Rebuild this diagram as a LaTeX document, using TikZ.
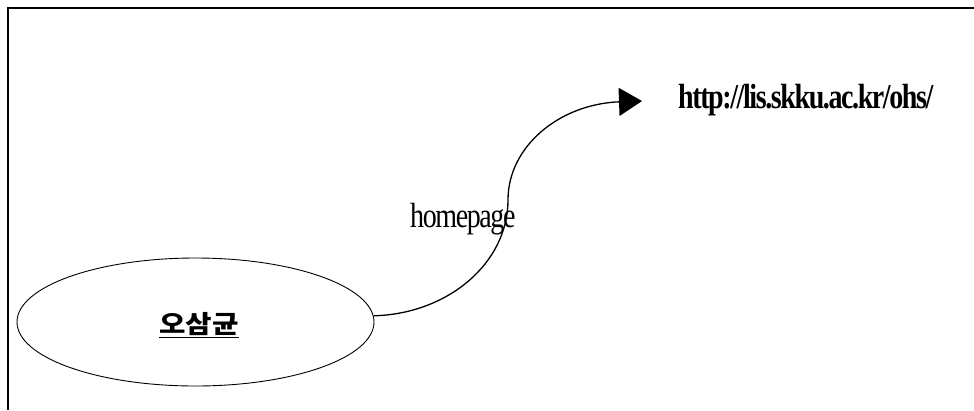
\documentclass[tikz,border=0pt]{standalone}
\usepackage{fontspec}
\usetikzlibrary{arrows.meta,shapes.geometric}
\setmainfont{Liberation Serif}
\newfontfamily\condserif[FakeStretch=0.8,LetterSpace=-4]{Liberation Serif}
\newfontfamily\kofont[FakeStretch=1.15]{Noto Sans CJK KR}
\tikzset{
  frameline/.style={line width=2pt},
  person/.style={draw, ellipse, line width=0.9pt, minimum width=357pt, minimum height=128pt, inner sep=0pt},
  conn/.style={line width=1.3pt, -{Triangle[length=23pt,width=28pt]}},
  lbl/.style={font=\condserif\fontsize{35}{35}\selectfont, inner sep=0pt},
  urlstyle/.style={font=\condserif\bfseries\fontsize{35}{35}\selectfont, inner sep=0pt}
}
\begin{document}
\begin{tikzpicture}[x=1pt,y=-1pt]
\useasboundingbox (0,0) rectangle (974,410);
\draw[frameline] (8,410) -- (8,8) -- (974,8);
\node[person] (ell) at (195.5,322) {};
\node[inner sep=0pt, font=\kofont\bfseries\fontsize{25}{25}\selectfont] (name) at (199,325) {\underline{오삼균}};
\node[urlstyle, anchor=base west] (url) at (678,108) {http://lis.skku.ac.kr/ohs/};
\coordinate (tip) at (642,101);
\coordinate (mid) at (508,200);
\draw[conn] (ell.2.6) .. controls (448,314) and (508,263) .. (mid)
  .. controls (508,146) and (560,104) .. (tip);
\node[lbl, anchor=base west] (hp) at (410,227) {homepage};
\end{tikzpicture}
\end{document}
